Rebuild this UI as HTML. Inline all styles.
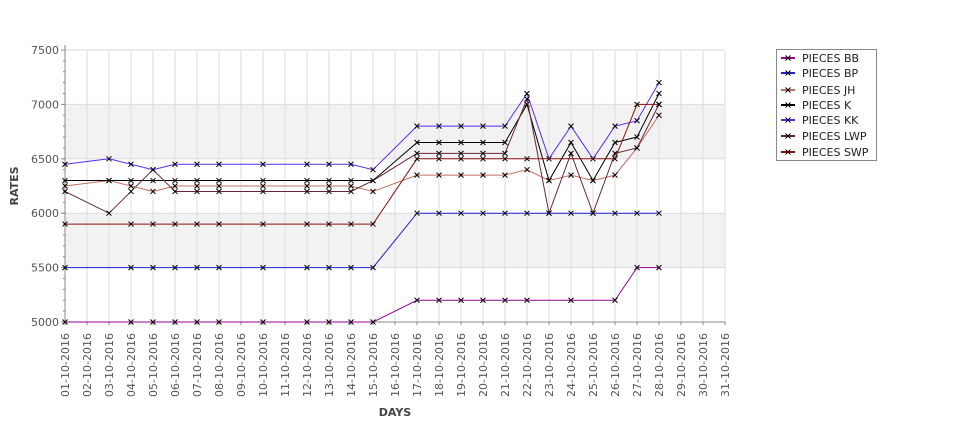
<!DOCTYPE html>
<html><head><meta charset="utf-8"><style>
body{margin:0;background:#fff;}
svg{display:block;font-family:"DejaVu Sans","Liberation Sans",sans-serif;}
</style></head><body>
<svg id="chart" width="975" height="429">
<g id="bg"></g><g id="grid"></g><g id="axes"></g><g id="series"></g>
<text x="18" y="186" transform="rotate(-90 18 186)" text-anchor="middle" font-size="11" font-weight="bold" fill="#444">RATES</text>
<text x="395" y="416" text-anchor="middle" font-size="11" font-weight="bold" fill="#444">DAYS</text>
<g id="legend"></g>
</svg>
<script>
const days = ["01-10-2016","02-10-2016","03-10-2016","04-10-2016","05-10-2016","06-10-2016","07-10-2016","08-10-2016","09-10-2016","10-10-2016","11-10-2016","12-10-2016","13-10-2016","14-10-2016","15-10-2016","16-10-2016","17-10-2016","18-10-2016","19-10-2016","20-10-2016","21-10-2016","22-10-2016","23-10-2016","24-10-2016","25-10-2016","26-10-2016","27-10-2016","28-10-2016","29-10-2016","30-10-2016","31-10-2016"];
const yTicks = [5000,5500,6000,6500,7000,7500];
const seriesNames = ["PIECES BB","PIECES BP","PIECES JH","PIECES K","PIECES KK","PIECES LWP","PIECES SWP"];
const seriesColors = ["#990099","#1f1fd0","#c07060","#000000","#5a2af0","#6a2535","#8a1010"];
const N=null;
const bb  = [5000,N,N,5000,5000,5000,5000,5000,N,5000,N,5000,5000,5000,5000,N,5200,5200,5200,5200,5200,5200,N,5200,N,5200,5500,5500,N,N,N];
const bp  = [5500,N,N,5500,5500,5500,5500,5500,N,5500,N,5500,5500,5500,5500,N,6000,6000,6000,6000,6000,6000,6000,6000,6000,6000,6000,6000,N,N,N];
const jh  = [6250,N,6300,6250,6200,6250,6250,6250,N,6250,N,6250,6250,6250,6200,N,6350,6350,6350,6350,6350,6400,6300,6350,6300,6350,6600,6900,N,N,N];
const k   = [6300,N,6300,6300,6300,6300,6300,6300,N,6300,N,6300,6300,6300,6300,N,6650,6650,6650,6650,6650,7000,6300,6650,6300,6650,6700,7100,N,N,N];
const kk  = [6450,N,6500,6450,6400,6450,6450,6450,N,6450,N,6450,6450,6450,6400,N,6800,6800,6800,6800,6800,7100,6500,6800,6500,6800,6850,7200,N,N,N];
const lwp = [6200,N,6000,6200,6400,6200,6200,6200,N,6200,N,6200,6200,6200,6300,N,6550,6550,6550,6550,6550,7050,6000,6550,6000,6550,6600,7000,N,N,N];
const swp = [5900,N,N,5900,5900,5900,5900,5900,N,5900,N,5900,5900,5900,5900,N,6500,6500,6500,6500,6500,6500,N,N,N,6500,7000,7000,N,N,N];
const seriesData=[bb,bp,jh,k,kk,lwp,swp];

const X0=65, DX=22, Y0=322, YMIN=5000, YMAX=7500, YTOP=50, XEND=725;
const xs=i=>X0+i*DX;
const ys=v=>Y0-(v-YMIN)/(YMAX-YMIN)*(Y0-YTOP);
const NS="http://www.w3.org/2000/svg";
function mk(tag,attrs,parent){const e=document.createElementNS(NS,tag);for(const a in attrs)e.setAttribute(a,attrs[a]);parent.appendChild(e);return e;}
const bg=document.getElementById('bg'),grid=document.getElementById('grid'),axes=document.getElementById('axes'),ser=document.getElementById('series'),leg=document.getElementById('legend');
for(let i=0;i<yTicks.length-1;i++){
  if(i%2===1){const r=mk('rect',{x:X0,y:ys(yTicks[i+1]),width:XEND-X0,height:ys(yTicks[i])-ys(yTicks[i+1]),fill:'#f2f2f2'},bg);
  
  }
}
yTicks.forEach(v=>{
  mk('line',{x1:X0,x2:XEND,y1:ys(v),y2:ys(v),stroke:'#dddddd','stroke-width':1},grid);
  mk('line',{x1:X0-4,x2:X0,y1:ys(v),y2:ys(v),stroke:'#888'},axes);
  const t=mk('text',{x:X0-6,y:ys(v)+4,'text-anchor':'end','font-size':11,fill:'#555'},axes);
  t.textContent=v;
  
  
});
for(let v=YMIN;v<=YMAX;v+=100){mk('line',{x1:X0-2,x2:X0,y1:ys(v),y2:ys(v),stroke:'#888'},axes);}
days.forEach((d,i)=>{
  mk('line',{x1:xs(i),x2:xs(i),y1:YTOP,y2:Y0,stroke:'#dddddd'},grid);
  mk('line',{x1:xs(i),x2:xs(i),y1:Y0,y2:Y0+3,stroke:'#888'},axes);
  const t=mk('text',{x:xs(i)+4,y:333,transform:`rotate(-90 ${xs(i)+4} 333)`,'text-anchor':'end','font-size':11,fill:'#555'},axes);
  t.textContent=d;
  
  
});
mk('line',{x1:X0,x2:X0,y1:YTOP-5,y2:Y0,stroke:'#888'},axes);
mk('line',{x1:X0,x2:XEND,y1:Y0,y2:Y0,stroke:'#888'},axes);
function cross(g,x,y,col){mk('path',{d:`M${x-2.5},${y-2.5}L${x+2.5},${y+2.5}M${x-2.5},${y+2.5}L${x+2.5},${y-2.5}`,stroke:col,'stroke-width':1,fill:'none'},g);}
seriesData.forEach((data,s)=>{
  const g=mk('g',{},ser);
  
  
  const pts=[];data.forEach((v,i)=>{if(v!==null)pts.push([xs(i),ys(v)]);});
  mk('polyline',{points:pts.map(p=>p.join(',')).join(' '),fill:'none',stroke:seriesColors[s],'stroke-width':1},g);
  pts.forEach(p=>cross(g,p[0],p[1],'#000'));
});
mk('rect',{x:776.5,y:49.5,width:100,height:111,fill:'#fff',stroke:'#888'},leg);
const ly=[58,73,90,105,120,136,152];
seriesNames.forEach((n,i)=>{
  const g=mk('g',{},leg);
  
  
  mk('line',{x1:781,x2:795,y1:ly[i],y2:ly[i],stroke:seriesColors[i],'stroke-width':2},g);
  cross(g,788,ly[i],'#000');
  const t=mk('text',{x:802,y:ly[i]+4,'font-size':11,fill:'#222'},g);
  t.textContent=n;
});
</script>
</body></html>
